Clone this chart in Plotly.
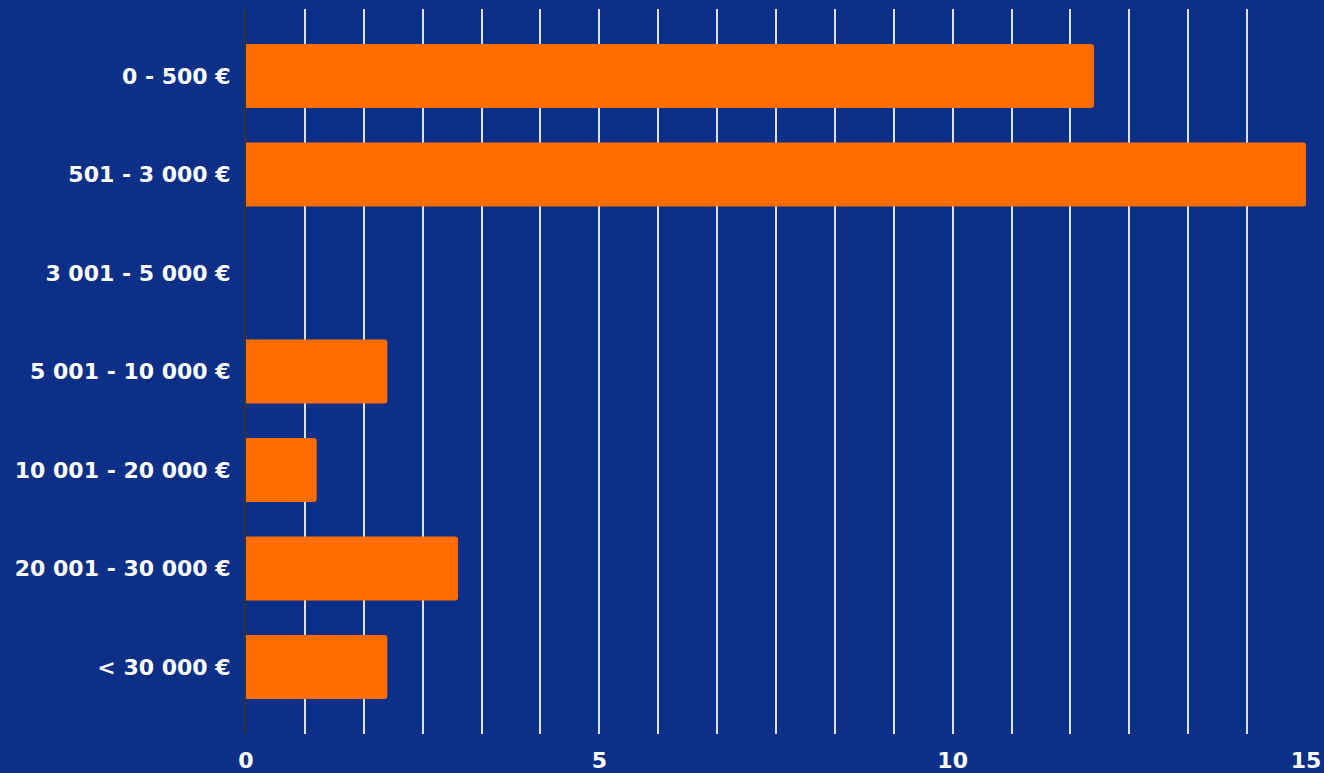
import plotly.graph_objects as go

categories = ["0 - 500 €", "501 - 3 000 €", "3 001 - 5 000 €", "5 001 - 10 000 €",
              "10 001 - 20 000 €", "20 001 - 30 000 €", "< 30 000 €"]
values = [12, 15, 0, 2, 1, 3, 2]
x_tick_vals = [0, 5, 10, 15]
x_tick_text = ["0", "5", "10", "15"]

BG = "#0c3088"
ORANGE = "#ff6d00"
TICKFONT = dict(family="DejaVu Sans, sans-serif", size=22, color="white", weight="bold")

fig = go.Figure(go.Bar(
    y=categories, x=values, orientation="h",
    marker=dict(color=ORANGE, line=dict(width=0), cornerradius=3),
))

fig.update_layout(
    width=1324, height=773,
    paper_bgcolor=BG, plot_bgcolor=BG,
    margin=dict(l=246, r=18, t=9, b=39),
    bargap=0.35,
    showlegend=False,
)
fig.update_xaxes(
    range=[0, 15], tickvals=x_tick_vals, ticktext=x_tick_text,
    tickfont=TICKFONT, automargin=False,
    showgrid=True, gridcolor="#e0e0e0", gridwidth=1.5,
    minor=dict(tick0=0, dtick=5/6, showgrid=True, gridcolor="#e0e0e0", gridwidth=1.5),
    zeroline=False, showline=False, ticks="", ticklabelstandoff=11,
)
fig.update_yaxes(
    categoryorder="array", categoryarray=categories,
    range=[6.68, -0.68],
    tickfont=TICKFONT, automargin=False,
    showgrid=False, showline=True, linecolor="#333333", linewidth=2,
    ticks="", ticklabelstandoff=9,
)
fig.write_html("out.html")
